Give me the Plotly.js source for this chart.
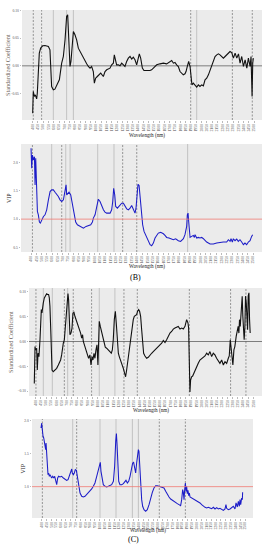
<!DOCTYPE html>
<html><head><meta charset="utf-8">
<script src="https://cdn.plot.ly/plotly-3.0.1.min.js"></script>
<style>html,body{margin:0;padding:0;background:#fff}#c{width:269px;height:550px}</style>
</head><body><div id="c"></div>
<script>
// ---------- DATA ----------
const tickWavelengths = [400,450,500,550,600,650,700,750,800,850,900,950,1000,1050,1100,1150,1200,1250,1300,1350,1400,1450,1500,1550,1600,1650,1700,1750,1800,1850,1900,1950,2000,2050,2100,2150,2200,2250,2300,2350,2400,2450,2500];

// Panel B top: standardized coefficients
const wlB_sc = [400,406,416,425,438,444,463,476,495,517,549,564,580,596,611,643,653,675,691,707,722,732,744,754,763,786,801,817,833,849,865,880,896,912,928,944,959,975,985,997,1013,1029,1045,1070,1086,1102,1117,1133,1149,1165,1174,1184,1196,1212,1228,1244,1260,1275,1291,1307,1323,1339,1354,1370,1386,1402,1411,1424,1440,1455,1481,1512,1528,1544,1576,1607,1639,1670,1702,1718,1734,1749,1765,1781,1797,1813,1828,1844,1854,1866,1879,1892,1901,1910,1923,1939,1955,1971,1986,2002,2018,2034,2050,2066,2082,2097,2113,2129,2145,2161,2176,2192,2208,2224,2240,2256,2271,2287,2303,2319,2335,2351,2366,2382,2398,2414,2430,2445,2461,2470,2480,2486,2492];
const scB = [-0.0856,-0.0464,-0.0555,-0.0525,-0.0597,-0.0494,0.0229,0.0320,0.0362,0.0368,0.0350,0.0289,-0.0374,-0.0434,-0.0422,-0.0283,-0.0253,0.0048,0.0169,0.0470,0.0893,0.0923,0.0289,-0.0012,0.0078,0.0621,0.0561,0.0470,0.0320,0.0259,0.0199,0.0139,0.0078,0.0036,-0.0012,-0.0042,-0.0012,-0.0103,-0.0314,-0.0223,-0.0193,-0.0163,-0.0133,-0.0193,-0.0103,-0.0072,-0.0060,-0.0042,0.0018,0.0048,0.0199,0.0109,0.0018,0.0018,0.0,0.0048,0.0018,-0.0012,0.0078,0.0139,0.0169,0.0121,0.0157,0.0109,0.0018,0.0169,0.0217,0.0139,-0.0042,-0.0084,-0.0090,-0.0084,-0.0072,-0.0042,0.0018,0.0036,0.0048,0.0036,0.0078,0.0096,0.0048,0.0060,0.0018,-0.0012,-0.0103,-0.0145,-0.0163,-0.0145,-0.0103,-0.0012,0.0078,-0.0012,-0.0253,-0.0344,-0.0314,-0.0362,-0.0386,-0.0344,-0.0374,-0.0344,-0.0362,-0.0253,-0.0223,-0.0163,-0.0072,0.0018,0.0078,0.0169,0.0199,0.0217,0.0199,0.0169,0.0139,0.0169,0.0199,0.0229,0.0259,0.0241,0.0139,0.0229,0.0139,0.0217,0.0048,0.0169,-0.0012,0.0109,-0.0042,0.0139,-0.0012,0.0169,-0.0555,0.0048,0.0139];

// Panel B bottom: VIP
const wlB_vip = [400,406,413,422,432,438,444,450,454,460,469,479,488,501,517,532,548,564,580,595,611,627,643,658,674,690,706,721,731,737,747,759,775,791,806,822,838,863,895,920,942,964,980,989,1005,1014,1027,1036,1052,1068,1084,1099,1115,1147,1162,1172,1181,1191,1200,1216,1235,1257,1273,1288,1304,1320,1336,1351,1367,1383,1392,1402,1411,1421,1430,1443,1455,1468,1487,1509,1525,1540,1556,1572,1588,1603,1625,1651,1666,1682,1704,1729,1745,1767,1792,1814,1840,1855,1871,1877,1884,1890,1896,1903,1918,1934,1944,1950,1966,1981,1997,2013,2029,2044,2060,2092,2123,2155,2186,2218,2249,2265,2281,2290,2303,2312,2328,2344,2359,2375,2391,2407,2422,2438,2454,2470,2485,2495];
const vipB = [2.253,1.900,2.135,2.047,2.106,1.606,2.076,1.606,1.312,1.135,1.076,0.947,0.929,0.988,1.047,1.076,1.165,1.341,1.488,1.518,1.518,1.476,1.441,1.400,1.341,1.312,1.341,1.547,1.606,1.429,1.459,1.476,1.429,1.253,1.076,0.947,0.900,0.871,0.841,0.871,0.888,0.900,0.947,1.018,1.076,1.165,1.312,1.353,1.312,1.224,1.165,1.124,1.106,1.106,1.165,1.312,1.547,1.429,1.224,1.194,1.235,1.282,1.282,1.241,1.182,1.165,1.194,1.241,1.165,1.106,1.194,1.488,1.618,1.594,1.429,1.076,0.900,0.782,0.694,0.618,0.547,0.529,0.576,0.665,0.724,0.753,0.765,0.741,0.712,0.676,0.665,0.653,0.635,0.653,0.618,0.606,0.653,0.724,0.871,1.076,1.106,0.959,0.724,0.676,0.694,0.712,0.676,0.724,0.665,0.676,0.665,0.676,0.653,0.618,0.594,0.559,0.559,0.576,0.588,0.594,0.594,0.635,0.606,0.653,0.594,0.653,0.618,0.647,0.606,0.635,0.594,0.547,0.576,0.547,0.594,0.618,0.694,0.724];

// Panel C top: standardized coefficients
const wlC_sc = [387,394,400,410,416,423,432,442,448,455,461,468,474,484,493,506,516,525,532,538,548,558,570,587,603,619,628,641,651,660,667,677,686,696,706,712,718,725,731,741,751,760,770,779,789,802,812,821,834,844,853,860,870,879,892,902,911,924,934,944,953,963,972,982,992,1001,1008,1014,1024,1034,1043,1053,1062,1072,1085,1101,1117,1130,1140,1149,1159,1169,1178,1188,1198,1207,1220,1233,1246,1259,1268,1278,1291,1304,1317,1329,1342,1352,1365,1374,1384,1394,1403,1413,1423,1432,1442,1455,1471,1487,1503,1519,1535,1551,1567,1583,1600,1616,1632,1648,1664,1680,1696,1712,1728,1744,1760,1776,1793,1809,1825,1841,1857,1863,1870,1876,1883,1889,1895,1905,1915,1928,1937,1953,1969,1985,2002,2018,2034,2050,2066,2082,2098,2114,2130,2146,2162,2178,2195,2211,2227,2243,2259,2268,2278,2287,2297,2303,2313,2322,2335,2345,2354,2361,2367,2374,2383,2393,2399,2406,2412,2419,2425,2432,2438,2445,2451,2458,2464,2470];
const scC = [-0.0848,-0.0102,-0.0170,-0.0136,-0.0576,-0.0237,-0.0305,0.0034,0.0305,0.0644,0.0576,0.0712,0.0780,0.0881,0.0929,0.0963,0.0949,0.0949,0.0881,0.0712,0.0102,-0.0576,-0.0610,-0.0576,-0.0542,-0.0475,-0.0427,-0.0373,-0.0271,-0.0102,-0.0034,0.0034,0.0305,0.0644,0.0915,0.0970,0.0848,0.0305,0.0136,0.0170,0.0271,0.0576,0.0590,0.0509,0.0454,0.0373,0.0305,0.0251,0.0170,0.0068,0.0136,0.0,-0.0068,-0.0102,-0.0170,-0.0237,-0.0339,-0.0271,-0.0475,-0.0305,-0.0373,-0.0237,-0.0339,-0.0170,-0.0068,-0.0475,0.0237,0.0407,0.0305,0.0203,0.0136,0.0034,-0.0068,-0.0115,-0.0136,-0.0170,-0.0203,-0.0237,-0.0170,0.0034,0.0441,0.0610,0.0373,-0.0034,-0.0237,-0.0305,-0.0373,-0.0441,-0.0542,-0.0644,-0.0712,-0.0576,-0.0373,-0.0170,0.0102,0.0305,0.0441,0.0509,0.0522,0.0542,0.0610,0.0644,0.0610,0.0509,0.0237,-0.0102,-0.0237,-0.0292,-0.0339,-0.0319,-0.0271,-0.0237,-0.0203,-0.0170,-0.0136,-0.0088,-0.0068,-0.0034,0.0020,-0.0020,0.0034,0.0102,0.0170,0.0203,0.0251,0.0271,0.0292,0.0305,0.0251,0.0271,0.0251,0.0305,0.0441,0.0407,0.0373,0.0271,-0.0848,-0.1017,-0.0780,-0.0712,-0.0698,-0.0644,-0.0576,-0.0509,-0.0441,-0.0373,-0.0339,-0.0305,-0.0292,-0.0237,-0.0271,-0.0203,-0.0305,-0.0237,-0.0271,-0.0339,-0.0407,-0.0441,-0.0373,-0.0475,-0.0407,-0.0441,-0.0339,-0.0292,0.0034,-0.0136,-0.0237,-0.0475,-0.0170,-0.0102,0.0102,0.0237,0.0305,0.0170,0.0441,0.0305,0.0644,0.0915,0.0509,0.0305,0.0034,0.0305,0.0915,0.0780,0.0373,0.0237,0.0915,0.0983,0.0441,0.0170];

// Panel C bottom: VIP
const wlC_vip = [393,397,400,403,407,414,421,428,434,441,445,452,458,465,472,479,486,493,503,514,524,534,544,555,565,575,589,606,624,641,658,672,686,699,710,716,727,737,747,758,768,778,796,813,830,847,864,882,899,916,933,950,968,985,999,1005,1012,1023,1036,1054,1071,1088,1105,1122,1140,1153,1164,1171,1177,1184,1195,1208,1226,1243,1260,1270,1284,1298,1312,1325,1339,1349,1360,1370,1380,1391,1398,1404,1411,1422,1432,1442,1456,1473,1490,1508,1525,1542,1559,1576,1594,1611,1628,1645,1662,1680,1697,1714,1731,1748,1766,1783,1800,1817,1834,1845,1855,1862,1869,1876,1883,1890,1896,1903,1910,1917,1924,1931,1948,1965,1982,2000,2017,2034,2051,2068,2086,2103,2120,2137,2154,2172,2189,2206,2223,2240,2258,2275,2292,2302,2309,2326,2344,2361,2378,2395,2406,2419,2430,2440,2447,2454,2464,2471,2474];
const vipC = [1.889,1.939,1.965,1.914,1.813,1.763,1.737,1.687,1.662,1.561,1.662,1.409,1.207,1.182,1.207,1.157,1.182,1.157,1.131,1.157,1.131,1.157,1.106,1.030,1.131,1.157,1.146,1.157,1.131,1.116,1.096,1.106,1.157,1.207,1.268,1.207,1.182,1.207,1.258,1.247,1.157,1.030,0.904,0.854,0.843,0.854,0.879,0.904,0.929,0.965,1.005,1.056,1.157,1.258,1.359,1.369,1.232,1.106,1.030,1.005,0.995,1.005,1.015,1.030,1.081,1.308,1.687,1.803,1.662,1.359,1.081,1.030,1.030,1.045,1.081,1.096,1.056,1.081,1.157,1.258,1.359,1.369,1.283,1.207,1.359,1.510,1.561,1.535,1.359,1.005,0.803,0.702,0.652,0.626,0.652,0.727,0.828,0.914,0.980,1.015,1.015,1.005,0.995,0.995,0.980,0.929,0.879,0.843,0.813,0.793,0.778,0.753,0.742,0.727,0.712,0.803,0.955,0.914,0.803,0.955,1.056,0.929,1.005,0.894,0.944,0.864,0.904,0.843,0.828,0.813,0.803,0.793,0.778,0.753,0.727,0.702,0.687,0.677,0.687,0.677,0.667,0.687,0.662,0.682,0.662,0.672,0.652,0.641,0.662,0.727,0.672,0.652,0.662,0.677,0.702,0.662,0.753,0.692,0.778,0.702,0.803,0.727,0.828,0.803,0.914];

// Marked wavelengths (vertical reference lines)
const dashedB_sc = [406,485,1898,2293,2482];
const solidB_sc  = [596,722,786,1955];
const dashedB_vip = [413,690,1266,1399];
const solidB_vip  = [595,728,769,1030,1184,1880];
const dashedC_sc = [403,677,763,940,1252,1381,1883,2281,2429];
const solidC_sc  = [474,561,709,1014,1165];
const dashedC_vip = [407,761,1614,1883];
const solidC_vip  = [720,1002,1167,1336,1398];

const vipThreshold = 1.0;

// ---------- LAYOUT ----------
const W = 269, H = 550;
const FONT = "Liberation Serif, Times New Roman, serif";
const panels = [
  {l:22, r:262, t:10,  b:120, xr:[299,2574], yr:[-0.098,0.101], x:wlB_sc,  y:scB,  kind:'sc',  dashed:dashedB_sc,  solid:solidB_sc,  ytitle:'Standardized Coefficient', ytx:8,  dtick:0.05, fmt:'.2f', wly:135},
  {l:21, r:262, t:144, b:252, xr:[305,2583], yr:[0.418,2.33],   x:wlB_vip, y:vipB, kind:'vip', dashed:dashedB_vip, solid:solidB_vip, ytitle:'VIP', ytx:9, dtick:0.5, fmt:'.1f', wly:266},
  {l:29, r:262, t:288, b:396, xr:[336,2584], yr:[-0.110,0.108], x:wlC_sc,  y:scC,  kind:'sc',  dashed:dashedC_sc,  solid:solidC_sc,  ytitle:'Standardized Coefficient', ytx:10, dtick:0.05, fmt:'.2f', wly:410},
  {l:32, r:253, t:419, b:518, xr:[300,2581], yr:[0.525,2.025],  x:wlC_vip, y:vipC, kind:'vip', dashed:dashedC_vip, solid:solidC_vip, ytitle:'VIP', ytx:22, dtick:0.5, fmt:'.1f', wly:530.5},
];

const traces = [], shapes = [], annotations = [];
const layout = {
  width: W, height: H,
  margin: {l:0, r:0, t:0, b:0, pad:0},
  paper_bgcolor: '#ffffff',
  plot_bgcolor: '#ebebeb',
  showlegend: false,
  font: {family: FONT, size: 4, color: '#4d4d4d'},
};

panels.forEach((p, i) => {
  const n = i === 0 ? '' : String(i + 1);
  const xa = 'x' + n, ya = 'y' + n;
  layout['xaxis' + n] = {
    domain: [p.l / W, p.r / W], range: p.xr, anchor: ya,
    tickvals: tickWavelengths, ticktext: tickWavelengths.map(String),
    tickangle: -90, tickfont: {family: FONT, size: 3.8, color: '#4d4d4d'},
    ticks: 'outside', ticklen: 1.5, tickwidth: 0.4, tickcolor: '#555',
    showgrid: false, zeroline: false, showline: false, automargin: false, fixedrange: true
  };
  layout['yaxis' + n] = {
    domain: [1 - p.b / H, 1 - p.t / H], range: p.yr, anchor: xa,
    dtick: p.dtick, tick0: 0, tickformat: p.fmt,
    tickfont: {family: FONT, size: 3.6, color: '#4d4d4d'},
    ticks: 'outside', ticklen: 1.5, tickwidth: 0.4, tickcolor: '#555',
    showgrid: false, zeroline: false, showline: false, automargin: false, fixedrange: true
  };
  p.dashed.forEach(w => shapes.push({type:'line', xref:xa, yref:ya + ' domain', x0:w, x1:w, y0:0, y1:1, line:{color:'#5a5a5a', width:0.6, dash:'2px,1.5px'}, layer:'below'}));
  p.solid.forEach(w => shapes.push({type:'line', xref:xa, yref:ya + ' domain', x0:w, x1:w, y0:0, y1:1, line:{color:'#a8a8a8', width:0.6}, layer:'below'}));
  if (p.kind === 'sc') {
    shapes.push({type:'line', xref:xa + ' domain', yref:ya, x0:0, x1:1, y0:0, y1:0, line:{color:'#333', width:0.6}, layer:'below'});
  } else {
    shapes.push({type:'line', xref:xa + ' domain', yref:ya, x0:0, x1:1, y0:vipThreshold, y1:vipThreshold, line:{color:'#f07a72', width:0.8}, layer:'above'});
  }
  traces.push({
    type:'scatter', mode:'lines', x:p.x, y:p.y, xaxis:xa, yaxis:ya,
    line:{color: p.kind === 'sc' ? '#111111' : '#1c1cc8', width: p.kind === 'sc' ? 1.1 : 1.05},
    hoverinfo:'skip'
  });
  annotations.push({xref:'paper', yref:'paper', x:p.ytx / W, y:1 - ((p.t + p.b) / 2) / H, text:p.ytitle, textangle:-90, showarrow:false,
    font:{family:FONT, size: p.kind === 'sc' ? 6.2 : 6, color: p.kind === 'sc' ? '#6e6358' : '#222'}, xanchor:'center', yanchor:'middle'});
  annotations.push({xref:'paper', yref:'paper', x:((p.l + p.r) / 2 + 5) / W, y:1 - p.wly / H, text:'Wavelength (nm)', showarrow:false,
    font:{family:FONT, size:5.2, color:'#222'}, xanchor:'center', yanchor:'middle'});
});

annotations.push({xref:'paper', yref:'paper', x:135 / W, y:1 - 277 / H, text:'(B)', showarrow:false, font:{family:FONT, size:8, color:'#000'}, xanchor:'center', yanchor:'middle'});
annotations.push({xref:'paper', yref:'paper', x:133 / W, y:1 - 539 / H, text:'(C)', showarrow:false, font:{family:FONT, size:8, color:'#000'}, xanchor:'center', yanchor:'middle'});

layout.shapes = shapes;
layout.annotations = annotations;

Plotly.newPlot('c', traces, layout, {staticPlot:true, displayModeBar:false});
</script></body></html>
